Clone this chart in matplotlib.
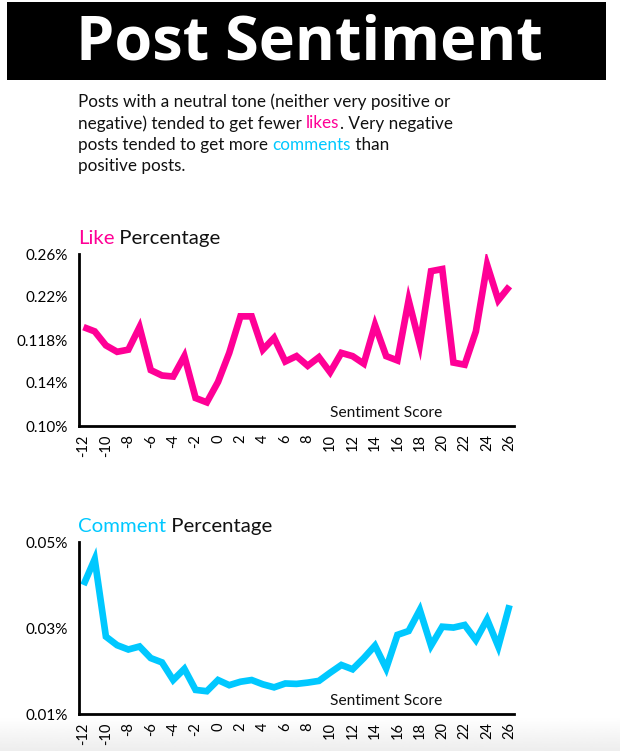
#!/usr/bin/env python3
"""Post sentiment: like and comment percentage by sentiment score."""
import matplotlib

matplotlib.use("Agg")
import matplotlib.pyplot as plt  # noqa: E402
import numpy as np  # noqa: E402
from matplotlib.patches import Rectangle  # noqa: E402

PINK = "#FF0096"
CYAN = "#00C8FF"
FONT = "Lato"

scores = list(range(-12, 27))
like_pct = [0.192, 0.188, 0.175, 0.169, 0.171, 0.192, 0.152, 0.147, 0.146, 0.165,
            0.126, 0.122, 0.141, 0.168, 0.202, 0.202, 0.171, 0.182, 0.160, 0.165,
            0.156, 0.164, 0.150, 0.168, 0.165, 0.158, 0.194, 0.165, 0.161, 0.217,
            0.176, 0.244, 0.246, 0.159, 0.157, 0.188, 0.250, 0.217, 0.230]
comment_pct = [0.0400, 0.0460, 0.0280, 0.0260, 0.0250, 0.0257, 0.0230, 0.0220, 0.0179,
               0.0205, 0.0156, 0.0153, 0.0179, 0.0167, 0.0175, 0.0179, 0.0169, 0.0162,
               0.0171, 0.0170, 0.0173, 0.0177, 0.0196, 0.0214, 0.0204, 0.0230, 0.0259,
               0.0206, 0.0284, 0.0293, 0.0342, 0.0259, 0.0303, 0.0301, 0.0307, 0.0272,
               0.0320, 0.0257, 0.0353]

x_ticks = list(range(-12, 27, 2))
like_ticks = [0.10, 0.14, 0.18, 0.22, 0.26]
like_tick_labels = ["0.10%", "0.14%", "0.118%", "0.22%", "0.26%"]
comment_ticks = [0.01, 0.03, 0.05]
comment_tick_labels = ["0.01%", "0.03%", "0.05%"]

body_lines = [
    [("Posts with a neutral tone (neither very positive or", "#111111")],
    [("negative) tended to get fewer ", "#111111"), ("likes", PINK),
     (". Very negative", "#111111")],
    [("posts tended to get more ", "#111111"), ("comments", CYAN), (" than", "#111111")],
    [("positive posts.", "#111111")],
]

W, H = 620, 751
fig = plt.figure(figsize=(W / 100, H / 100), dpi=100)
fig.patch.set_facecolor("white")


def fx(px):
    return px / W


def fy(py):
    return 1 - py / H


# faint grey fade at the bottom edge
bg = fig.add_axes([0, 0, 1, fy(718)], zorder=-10)
grad = np.linspace(0.93, 1.0, 64).reshape(-1, 1)
bg.imshow(grad, cmap="gray", vmin=0, vmax=1, aspect="auto", origin="lower",
          extent=[0, 1, 0, 1])
bg.axis("off")

# title banner
fig.patches.append(Rectangle((fx(7), fy(80)), fx(599), 78 / H, transform=fig.transFigure,
                             facecolor="black", edgecolor="none", zorder=0))
fig.text(fx(309), fy(44), "Post Sentiment", color="white", fontsize=44,
         fontweight="bold", family="Open Sans", ha="center", va="center")

renderer = fig.canvas.get_renderer()


def write_line(segments, x0, y0, size):
    x = x0
    for txt, color in segments:
        t = fig.text(x, y0, txt, color=color, fontsize=size, family=FONT,
                     ha="left", va="baseline")
        bb = t.get_window_extent(renderer=renderer)
        x += bb.width / W


for i, segs in enumerate(body_lines):
    write_line(segs, fx(78), fy(107 + i * 21.5), 12.3)


def draw_panel(bottom_px, values, color, word, yticks, ylabels, ylim):
    ax = fig.add_axes([fx(79), fy(bottom_px), fx(435), 172 / H])
    ax.plot(scores, values, color=color, lw=4.8, solid_joinstyle="miter",
            solid_capstyle="butt")
    ax.set_xlim(-12.4, 26.4)
    ax.set_ylim(*ylim)
    ax.set_xticks(x_ticks)
    ax.set_xticklabels([str(v) for v in x_ticks], rotation=90, family=FONT,
                       fontsize=10.5)
    ax.set_yticks(yticks)
    ax.set_yticklabels(ylabels, family=FONT, fontsize=11)
    ax.tick_params(length=0, pad=6)
    ax.tick_params(axis="y", pad=8)
    for side in ("top", "right"):
        ax.spines[side].set_visible(False)
    for side in ("left", "bottom"):
        ax.spines[side].set_linewidth(2)
        ax.spines[side].set_color("black")
    ax.set_facecolor("none")
    ax.text(0.707, 0.035, "Sentiment Score", transform=ax.transAxes, ha="center",
            va="bottom", family=FONT, fontsize=11.2, color="#111111")
    top_px = bottom_px - 172
    write_line([(word, color), (" Percentage", "#111111")], fx(78), fy(top_px - 10), 14.7)
    return ax


draw_panel(426, like_pct, PINK, "Like", like_ticks, like_tick_labels, (0.10, 0.26))
draw_panel(714, comment_pct, CYAN, "Comment", comment_ticks, comment_tick_labels,
           (0.01, 0.05))

fig.savefig("out.png", dpi=100)
